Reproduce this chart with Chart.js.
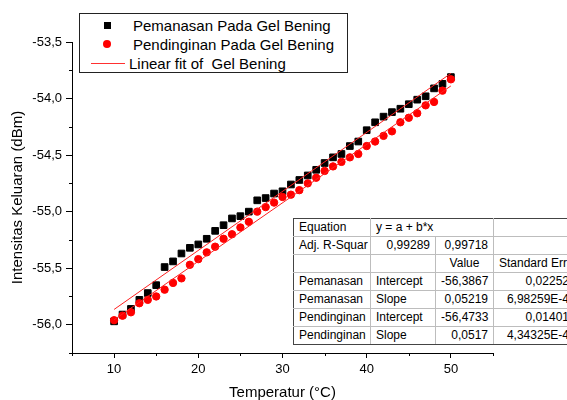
<!DOCTYPE html>
<html>
<head>
<meta charset="utf-8">
<script src="https://cdn.jsdelivr.net/npm/chart.js@4"></script>
<style>
    body {
        margin: 0;
        background: #fff;
        font-family: "Liberation Sans", Arial, sans-serif;
    }

    .wrap {
        position: relative;
        width: 567px;
        height: 400px;
        overflow: hidden;
    }

    .legend {
        position: absolute;
        left: 79px;
        top: 13px;
        width: 267px;
        height: 58px;
        border: 1px solid #222;
        background: #fff;
        font-size: 15px;
        color: #000;
    }

    .legend .row {
        position: absolute;
        left: 0;
        width: 100%;
        height: 19px;
        line-height: 19px;
    }

    .legend .text {
        position: absolute;
        left: 53px;
        top: 0;
        white-space: pre;
    }

    .legend .mark-sq {
        position: absolute;
        left: 24px;
        top: 6px;
        width: 7px;
        height: 7px;
        background: #000;
    }

    .legend .mark-ci {
        position: absolute;
        left: 23px;
        top: 5px;
        width: 8px;
        height: 8px;
        border-radius: 50%;
        background: #ff0000;
    }

    .legend .mark-ln {
        position: absolute;
        left: 11px;
        top: 9px;
        width: 34px;
        height: 1px;
        background: #ff3030;
    }

    .fit-table {
        position: absolute;
        left: 293px;
        top: 218px;
        border-collapse: collapse;
        table-layout: fixed;
        width: 281px;
        background: #fff;
        font-size: 12px;
        color: #000;
    }

    .fit-table td {
        border: 1px solid #bdbdbd;
        height: 17px;
        padding: 0 5px;
        white-space: nowrap;
        overflow: hidden;
        line-height: 17px;
    }

    .fit-table tr:first-child td { border-top-color: #444; }
    .fit-table tr:last-child td { border-bottom-color: #444; }
    .fit-table td:first-child { border-left-color: #444; }
    .fit-table .num { text-align: right; }
    .fit-table .mid { text-align: center; }
</style>
</head>
<body>
<div class="wrap">
    <canvas id="chart" width="567" height="400"></canvas>

    <div class="legend">
        <div class="row" style="top: 2px"><span class="mark-sq"></span><span class="text">Pemanasan Pada Gel Bening</span></div>
        <div class="row" style="top: 21px"><span class="mark-ci"></span><span class="text">Pendinginan Pada Gel Bening</span></div>
        <div class="row" style="top: 40px"><span class="mark-ln"></span><span class="text" style="left: 49px">Linear fit of  Gel Bening</span></div>
    </div>

    <table class="fit-table">
        <colgroup>
            <col style="width: 77px">
            <col style="width: 65px">
            <col style="width: 58px">
            <col style="width: 81px">
        </colgroup>
        <tbody id="fitBody"></tbody>
    </table>
</div>

<script>
    //Temperature steps (°C)
    const temps = [10, 11, 12, 13, 14, 15, 16, 17, 18, 19, 20, 21, 22, 23, 24, 25, 26, 27, 28, 29,
        30, 31, 32, 33, 34, 35, 36, 37, 38, 39, 40, 41, 42, 43, 44, 45, 46, 47, 48, 49, 50];

    //Output intensity while heating (dBm)
    const pemanasan = [-55.97, -55.91, -55.86, -55.78, -55.72, -55.65, -55.49, -55.44, -55.37, -55.32,
        -55.29, -55.24, -55.17, -55.12, -55.06, -55.04, -55.00, -54.90, -54.88, -54.84,
        -54.82, -54.76, -54.72, -54.68, -54.63, -54.57, -54.52, -54.49, -54.42, -54.38,
        -54.28, -54.21, -54.16, -54.12, -54.09, -54.05, -54.01, -53.98, -53.91, -53.87, -53.81];

    //Output intensity while cooling (dBm)
    const pendinginan = [-55.96, -55.92, -55.89, -55.81, -55.78, -55.75, -55.69, -55.63, -55.59, -55.47,
        -55.42, -55.36, -55.31, -55.24, -55.20, -55.14, -55.09, -55.00, -54.96, -54.92,
        -54.87, -54.85, -54.81, -54.75, -54.70, -54.64, -54.60, -54.56, -54.52, -54.49,
        -54.42, -54.38, -54.33, -54.29, -54.21, -54.17, -54.13, -54.06, -54.03, -53.93, -53.83];

    //Linear fit results (y = a + b*x)
    const fitNames = ["Pemanasan", "Pendinginan"];
    const fitIntercept = [-56.3867, -56.4733];
    const fitSlope = [0.05219, 0.0517];
    const fitInterceptErr = ["0,02252", "0,01401"];
    const fitSlopeErr = ["6,98259E-4", "4,34325E-4"];
    const fitR2 = ["0,99289", "0,99718"];
    const fitRange = [10, 50];

    //Axis ticks
    const xTicks = [10, 20, 30, 40, 50];
    const xMinor = [5, 15, 25, 35, 45, 55];
    const yTicks = [-56.0, -55.5, -55.0, -54.5, -54.0, -53.5];
    const yMinor = [-56.25, -55.75, -55.25, -54.75, -54.25, -53.75];

    const FONT = "'Liberation Sans', Arial, sans-serif";
    Chart.defaults.font.family = FONT;
    Chart.defaults.color = "#000";

    //Turn the arrays into {x, y} points
    function toPoints(xs, ys) {
        return xs.map((x, i) => ({x: x, y: ys[i]}));
    }

    function fitLine(i) {
        return fitRange.map(x => ({x: x, y: fitIntercept[i] + fitSlope[i] * x}));
    }

    //Short ticks between the labelled ones
    const minorTicks = {
        id: "minorTicks",
        afterDraw(chart) {
            const ctx = chart.ctx;
            const x = chart.scales.x;
            const y = chart.scales.y;
            ctx.save();
            ctx.strokeStyle = "#000";
            ctx.lineWidth = 1;
            ctx.beginPath();
            xMinor.forEach(v => {
                const px = Math.round(x.getPixelForValue(v)) + 0.5;
                ctx.moveTo(px, x.top);
                ctx.lineTo(px, x.top + 3);
            });
            yMinor.forEach(v => {
                const py = Math.round(y.getPixelForValue(v)) + 0.5;
                ctx.moveTo(y.right, py);
                ctx.lineTo(y.right - 3, py);
            });
            ctx.stroke();
            ctx.restore();
        }
    };

    new Chart(document.getElementById("chart"), {
        type: "scatter",
        data: {
            datasets: [
                {
                    type: "line",
                    label: "Linear fit of  Gel Bening",
                    data: fitLine(0),
                    borderColor: "#ff2020",
                    borderWidth: 1,
                    pointRadius: 0
                },
                {
                    type: "line",
                    label: "Linear fit of  Gel Bening",
                    data: fitLine(1),
                    borderColor: "#ff2020",
                    borderWidth: 1,
                    pointRadius: 0
                },
                {
                    label: "Pendinginan Pada Gel Bening",
                    data: toPoints(temps, pendinginan),
                    pointStyle: "circle",
                    pointRadius: 3.7,
                    backgroundColor: "#ff0000",
                    borderColor: "#ff0000",
                    borderWidth: 1
                },
                {
                    label: "Pemanasan Pada Gel Bening",
                    data: toPoints(temps, pemanasan),
                    pointStyle: "rect",
                    pointRadius: 4.7,
                    backgroundColor: "#000",
                    borderColor: "#000",
                    borderWidth: 1
                }
            ]
        },
        options: {
            responsive: false,
            animation: false,
            events: [],
            layout: {padding: {left: 0, top: 42, right: 74, bottom: 0}},
            plugins: {
                legend: {display: false},
                tooltip: {enabled: false}
            },
            scales: {
                x: {
                    type: "linear",
                    min: 5,
                    max: 55,
                    afterFit: (scale) => { scale.height = 47; },
                    afterBuildTicks: (scale) => { scale.ticks = xTicks.map(v => ({value: v})); },
                    border: {color: "#000", width: 1},
                    grid: {drawOnChartArea: false, drawTicks: true, tickLength: 5, tickColor: "#000"},
                    ticks: {font: {size: 13}, padding: 4, maxRotation: 0},
                    title: {
                        display: true,
                        text: "Temperatur (°C)",
                        font: {size: 15, lineHeight: 1},
                        padding: {top: 0, bottom: 0}
                    }
                },
                y: {
                    type: "linear",
                    min: -56.25,
                    max: -53.5,
                    afterFit: (scale) => { scale.width = 72; },
                    afterBuildTicks: (scale) => { scale.ticks = yTicks.map(v => ({value: v})); },
                    border: {color: "#000", width: 1},
                    grid: {drawOnChartArea: false, drawTicks: true, tickLength: 6, tickColor: "#000"},
                    ticks: {
                        font: {size: 13},
                        padding: 4,
                        callback: (v) => v.toFixed(1).replace(".", ",")
                    },
                    title: {
                        display: true,
                        text: "Intensitas Keluaran (dBm)",
                        font: {size: 15},
                        padding: {top: 9, bottom: 0}
                    }
                }
            }
        },
        plugins: [minorTicks]
    });

    //Fill the fit result table
    const rows = [
        ["Equation", {text: "y = a + b*x", span: 2}, ""],
        ["Adj. R-Squar", {text: fitR2[0], cls: "num"}, {text: fitR2[1], cls: "num"}, ""],
        ["", "", {text: "Value", cls: "mid"}, "Standard Error"]
    ];
    fitNames.forEach((name, i) => {
        rows.push([name, "Intercept", {text: fitIntercept[i].toString().replace(".", ","), cls: "num"}, {text: fitInterceptErr[i], cls: "num"}]);
        rows.push([name, "Slope", {text: fitSlope[i].toString().replace(".", ","), cls: "num"}, {text: fitSlopeErr[i], cls: "num"}]);
    });

    const body = document.getElementById("fitBody");
    rows.forEach(r => {
        const tr = document.createElement("tr");
        r.forEach(c => {
            const td = document.createElement("td");
            if (typeof c === "string") {
                td.textContent = c;
            } else {
                td.textContent = c.text;
                if (c.cls) td.className = c.cls;
                if (c.span) td.colSpan = c.span;
            }
            tr.appendChild(td);
        });
        body.appendChild(tr);
    });
</script>
</body>
</html>
